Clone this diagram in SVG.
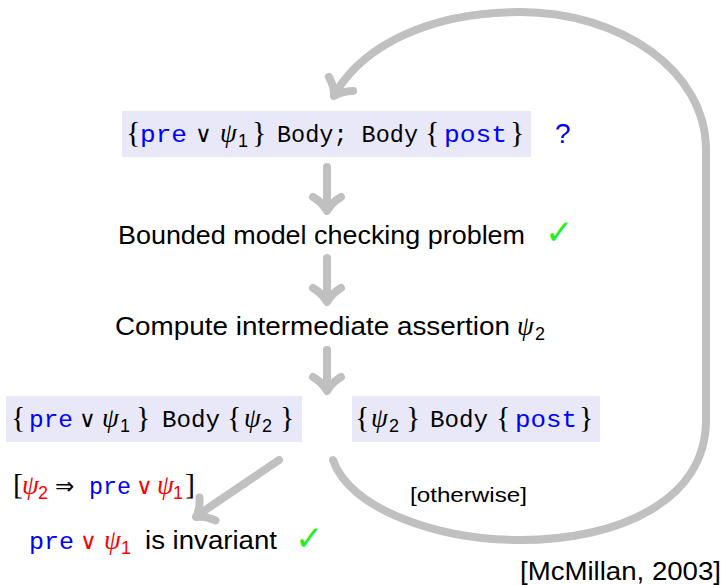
<svg xmlns="http://www.w3.org/2000/svg" width="726" height="585" viewBox="0 0 726 585">
<style>
.box{fill:#e8e8f8}
.tt{font-family:"Liberation Mono","DejaVu Sans Mono",monospace;font-size:24px;fill:#000}
.sf{font-family:"Liberation Sans","DejaVu Sans",sans-serif;fill:#000}
.rm{font-family:"Liberation Serif","DejaVu Serif",serif;font-size:30px}
.it{font-family:"Liberation Serif","DejaVu Serif",serif;font-style:italic;font-size:27px}
.op{font-family:"DejaVu Sans",sans-serif;font-size:23px}
.sub{font-family:"Liberation Sans","DejaVu Sans",sans-serif;font-size:18px}
.chk{font-family:"DejaVu Sans",sans-serif;font-size:34px;fill:#22ee22}
.blue{fill:#0000ff}
.red{fill:#ff0000}
.arrow{stroke:#c0c0c0;stroke-width:8;fill:none;stroke-linecap:round;stroke-linejoin:round}
</style>
<defs>
<path id="ah" d="M -14 -14 Q -4 -8 0 0 Q 4 -8 14 -14"/>
</defs>
<g id="connectors" class="arrow">
<line x1="327" y1="167" x2="327" y2="209"/>
<use href="#ah" transform="translate(327,211)"/>
<line x1="327" y1="258" x2="327" y2="300"/>
<use href="#ah" transform="translate(327,302)"/>
<line x1="327" y1="350" x2="327" y2="389"/>
<use href="#ah" transform="translate(327,391)"/>
<line x1="279" y1="460" x2="198" y2="515"/>
<use href="#ah" transform="translate(196,517) rotate(55)"/>
<path d="M 333 460 C 350 510, 440 540, 520 540 C 620 540, 706 500, 706 420 L 706 150 C 706 70, 620 12, 520 12 C 430 12, 365 45, 336 92"/>
<use href="#ah" transform="translate(334,96) rotate(30)"/>
</g>
<g id="node-top">
<rect class="box" x="122" y="111" width="409" height="46"/>
<text y="142"><tspan class="rm" x="126">{</tspan><tspan class="tt blue" x="140" textLength="47" lengthAdjust="spacingAndGlyphs">pre</tspan><tspan class="op" x="195">∨</tspan><tspan class="it" x="220">ψ</tspan><tspan class="sub" x="238" dy="5">1</tspan><tspan class="rm" x="252" dy="-5">}</tspan><tspan class="tt" x="277" textLength="141" lengthAdjust="spacingAndGlyphs">Body; Body</tspan><tspan class="rm" x="425">{</tspan><tspan class="tt blue" x="444" textLength="63" lengthAdjust="spacingAndGlyphs">post</tspan><tspan class="rm" x="510">}</tspan></text>
<text class="sf blue" x="555" y="143" font-size="28">?</text>
</g>
<g id="node-bmc">
<text class="sf" x="118" y="244" font-size="25" textLength="407" lengthAdjust="spacingAndGlyphs">Bounded model checking problem</text>
<text class="chk" x="545" y="244">✓</text>
</g>
<g id="node-compute">
<text class="sf" x="115" y="335" font-size="25" textLength="395" lengthAdjust="spacingAndGlyphs">Compute intermediate assertion</text>
<text y="335"><tspan class="it" x="517">ψ</tspan><tspan class="sub" x="535" dy="5">2</tspan></text>
</g>
<g id="node-left">
<rect class="box" x="6" y="396" width="296" height="46"/>
<text y="427"><tspan class="rm" x="11">{</tspan><tspan class="tt blue" x="29" textLength="44" lengthAdjust="spacingAndGlyphs">pre</tspan><tspan class="op" x="79">∨</tspan><tspan class="it" x="102">ψ</tspan><tspan class="sub" x="120" dy="5">1</tspan><tspan class="rm" x="136" dy="-5">}</tspan><tspan class="tt" x="162" textLength="58" lengthAdjust="spacingAndGlyphs">Body</tspan><tspan class="rm" x="227">{</tspan><tspan class="it" x="244">ψ</tspan><tspan class="sub" x="262" dy="5">2</tspan><tspan class="rm" x="280" dy="-5">}</tspan></text>
</g>
<g id="node-right">
<rect class="box" x="352" y="396" width="248" height="46"/>
<text y="427"><tspan class="rm" x="355">{</tspan><tspan class="it" x="371">ψ</tspan><tspan class="sub" x="389" dy="5">2</tspan><tspan class="rm" x="406" dy="-5">}</tspan><tspan class="tt" x="430" textLength="58" lengthAdjust="spacingAndGlyphs">Body</tspan><tspan class="rm" x="496">{</tspan><tspan class="tt blue" x="515" textLength="62" lengthAdjust="spacingAndGlyphs">post</tspan><tspan class="rm" x="579">}</tspan></text>
</g>
<g id="label-guard">
<text y="494"><tspan class="rm" x="13" font-size="25">[</tspan><tspan class="it red" x="22" font-size="24">ψ</tspan><tspan class="sub red" x="38" dy="5" font-size="16">2</tspan><tspan class="op" x="55" dy="-5" font-size="24">⇒</tspan><tspan class="tt blue" x="89" textLength="42" lengthAdjust="spacingAndGlyphs" font-size="21">pre</tspan><tspan class="op red" x="136" font-size="19">∨</tspan><tspan class="it red" x="157" font-size="24">ψ</tspan><tspan class="sub red" x="173" dy="5" font-size="16">1</tspan><tspan class="rm" x="185" dy="-5" font-size="25">]</tspan></text>
</g>
<g id="node-invariant">
<text y="549"><tspan class="tt blue" x="29" textLength="45" lengthAdjust="spacingAndGlyphs">pre</tspan><tspan class="op red" x="80">∨</tspan><tspan class="it red" x="104">ψ</tspan><tspan class="sub red" x="121" dy="5">1</tspan><tspan class="sf" x="145" dy="-5" font-size="25" textLength="132" lengthAdjust="spacingAndGlyphs">is invariant</tspan></text>
<text class="chk" x="295" y="550">✓</text>
</g>
<g id="label-otherwise">
<text class="sf" x="410" y="502" font-size="21" textLength="117" lengthAdjust="spacingAndGlyphs">[otherwise]</text>
</g>
<g id="citation">
<text class="sf" x="520" y="580" font-size="25" textLength="201" lengthAdjust="spacingAndGlyphs">[McMillan, 2003]</text>
</g>
</svg>
